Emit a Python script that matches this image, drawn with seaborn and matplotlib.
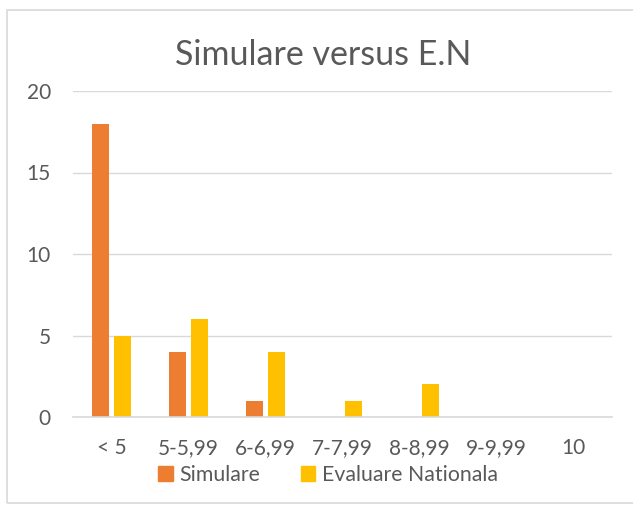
import pandas as pd
import numpy as np
import matplotlib
matplotlib.use('Agg')
import matplotlib.pyplot as plt
from matplotlib.patches import Rectangle
import seaborn as sns

# Data
categories = ['< 5', '5-5,99', '6-6,99', '7-7,99', '8-8,99', '9-9,99', '10']
simulare = [18, 4, 1, 0, 0, 0, 0]
evaluare = [5, 6, 4, 1, 2, 0, 0]
series_names = ['Simulare', 'Evaluare Nationala']
yticks = [0, 5, 10, 15, 20]

df = pd.DataFrame({'interval': categories,
                   series_names[0]: simulare,
                   series_names[1]: evaluare})
df = df.melt(id_vars='interval', var_name='serie', value_name='count')

color = {'Simulare': '#ED7D31', 'Evaluare Nationala': '#FFC000'}
text_color = '#595959'
grid_color = '#D9D9D9'

sns.set_style('white')
plt.rcParams['font.family'] = ['Lato', 'DejaVu Sans']

fig = plt.figure(figsize=(6.33, 5.05), dpi=100)
ax = fig.add_axes([73/633, 1 - 417/505, (612 - 73)/633, (417 - 91)/505])

sns.barplot(x='interval', y='count', hue='serie', data=df,
            palette=color, width=0.57, gap=0.23, saturation=1, linewidth=0,
            order=categories, hue_order=series_names, ax=ax, legend=False)

ax.set(xlabel='', ylabel='', ylim=(0, 20), yticks=yticks,
       xlim=(-0.5, len(categories) - 0.5))
ax.yaxis.grid(True, color=grid_color, linewidth=1)
ax.set_axisbelow(True)
for side in ['top', 'right', 'left']:
    ax.spines[side].set_visible(False)
ax.spines['bottom'].set_color(grid_color)
ax.spines['bottom'].set_linewidth(1.2)
ax.tick_params(axis='both', length=0, labelsize=15, colors=text_color)
ax.tick_params(axis='x', pad=15)
ax.tick_params(axis='y', pad=16)

fig.text(0.51, 1 - 55/505, 'Simulare versus E.N', ha='center', va='center',
         fontsize=24.5, color=text_color)

handles = [Rectangle((0, 0), 1, 1, color=color[s]) for s in series_names]
fig.legend(handles, series_names, loc='center', bbox_to_anchor=(0.518, 1 - 475/505),
           ncol=2, frameon=False, fontsize=15.3, labelcolor=text_color,
           handlelength=0.7, handleheight=0.7, handletextpad=0.3, columnspacing=1.9)

# light chart border
fig.patches.append(Rectangle((7/633, 2/505), 1.0, 1 - 12/505, transform=fig.transFigure,
                             fill=False, edgecolor='#D9D9D9', linewidth=1.2))

fig.savefig('out.png', dpi=100)
